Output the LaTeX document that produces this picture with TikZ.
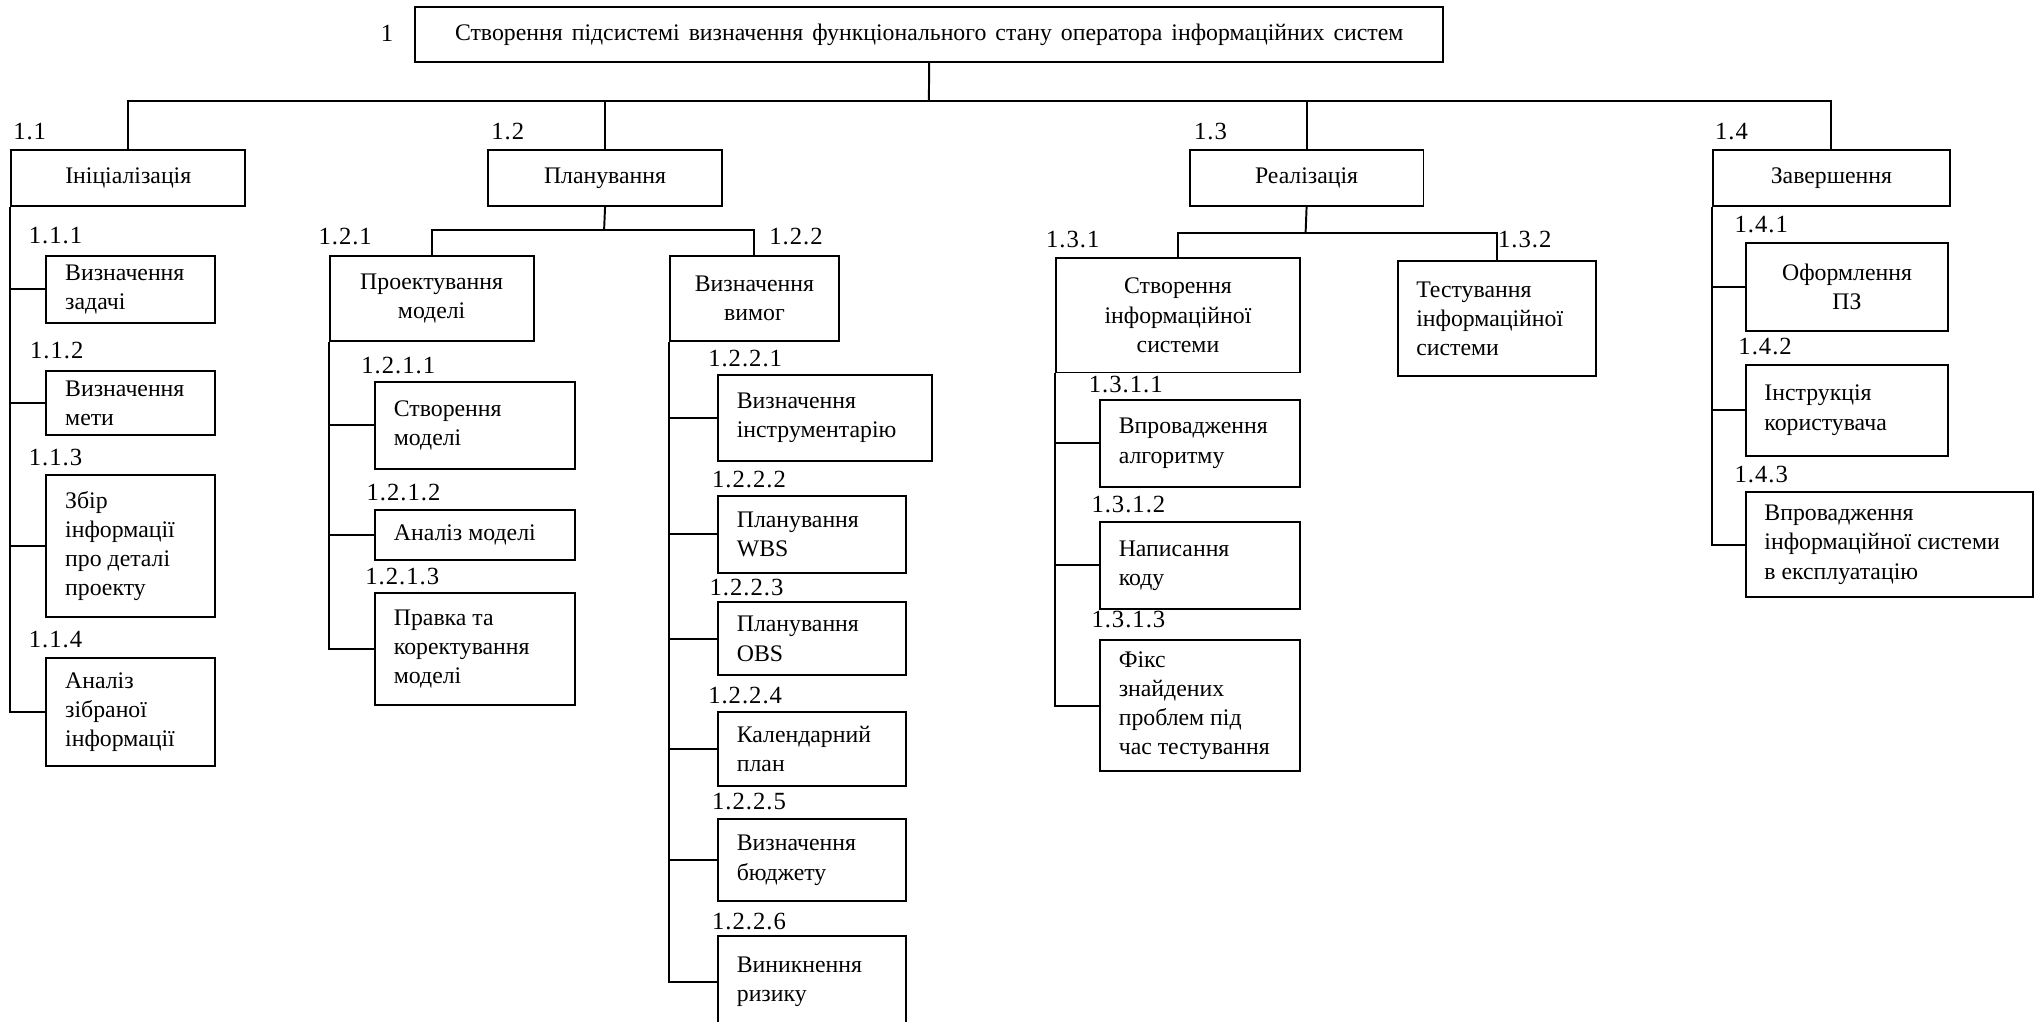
\documentclass[tikz,border=0pt]{standalone}
\usepackage{fontspec}
\setmainfont{Liberation Serif}
\newfontfamily\numfont[LetterSpace=4]{Liberation Serif}
\newcommand{\boxfont}{\fontsize{18.3}{22.5}\selectfont}
\newcommand{\numfnt}{\numfont\fontsize{19}{22}\selectfont}

\tikzset{
  wbsline/.style={line width=1.5pt},
  wbsbox/.style={draw, line width=1.5pt, anchor=north west, inner sep=0pt, font=\boxfont},
  boxtext/.style={anchor=west, align=left, inner sep=0pt, font=\boxfont},
  wbsnum/.style={anchor=west, inner sep=0pt, font=\numfnt},
}

% centred box: name, x1, y1, x2, y2, text
\newcommand{\cbox}[6]{%
  \pgfmathsetmacro{\wbsW}{#4-#2}\pgfmathsetmacro{\wbsH}{#5-#3}%
  \node[wbsbox, align=center, minimum width=\wbsW pt, minimum height=\wbsH pt] (#1) at (#2,#3) {#6};}
% box with left-aligned text: name, x1, y1, x2, y2, text
\newcommand{\lbox}[6]{%
  \pgfmathsetmacro{\wbsW}{#4-#2}\pgfmathsetmacro{\wbsH}{#5-#3}%
  \node[wbsbox, minimum width=\wbsW pt, minimum height=\wbsH pt] (#1) at (#2,#3) {};
  \node[boxtext] (#1t) at ([xshift=15pt]#1.west) {#6};}

\begin{document}
\begin{tikzpicture}[x=1pt, y=-1pt]
\clip (0,0) rectangle (1568,786);

% root
\cbox{top}{319}{5}{1110}{47}{\spaceskip=7pt\relax Створення підсистемі визначення функціонального стану оператора інформаційних систем}
\node[wbsnum, anchor=center] (l1) at (298,26) {1};

% level 1
\cbox{n11}{8}{115}{188}{158}{Ініціалізація}
\cbox{n12}{375}{115}{555}{158}{Планування}
\cbox{n13}{915}{115}{1095}{158}{Реалізація}
\cbox{n14}{1318}{115}{1500}{158}{Завершення}
\node[wbsnum] (l11) at (10,101) {1.1};
\node[wbsnum] (l12) at (378,101) {1.2};
\node[wbsnum] (l13) at (919,101) {1.3};
\node[wbsnum] (l14) at (1320,101) {1.4};

% 1.1 Ініціалізація
\lbox{n111}{35}{196}{165}{248}{Визначення\\задачі}
\lbox{n112}{35}{285}{165}{334}{Визначення\\мети}
\lbox{n113}{35}{365}{165}{474}{Збір\\інформації\\про деталі\\проекту}
\lbox{n114}{35}{506}{165}{589}{Аналіз\\зібраної\\інформації}
\node[wbsnum] (l111) at (22,181) {1.1.1};
\node[wbsnum] (l112) at (23,270) {1.1.2};
\node[wbsnum] (l113) at (22,352) {1.1.3};
\node[wbsnum] (l114) at (22,492) {1.1.4};

% 1.2 Планування
\cbox{n121}{253}{196}{410}{262}{Проектування\\моделі}
\cbox{n122}{515}{196}{645}{262}{Визначення\\вимог}
\node[wbsnum] (l121) at (245,182) {1.2.1};
\node[wbsnum] (l122) at (592,182) {1.2.2};

\lbox{n1211}{288}{293}{442}{360}{Створення\\моделі}
\lbox{n1212}{288}{392}{442}{430}{Аналіз моделі}
\lbox{n1213}{288}{456}{442}{542}{Правка та\\коректування\\моделі}
\node[wbsnum] (l1211) at (278,281) {1.2.1.1};
\node[wbsnum] (l1212) at (282,379) {1.2.1.2};
\node[wbsnum] (l1213) at (281,444) {1.2.1.3};

\lbox{n1221}{552}{288}{717}{354}{Визначення\\інструментарію}
\lbox{n1222}{552}{381}{697}{440}{Планування\\WBS}
\lbox{n1223}{552}{463}{697}{519}{Планування\\OBS}
\lbox{n1224}{552}{547}{697}{604}{Календарний\\план}
\lbox{n1225}{552}{630}{697}{693}{Визначення\\бюджету}
\lbox{n1226}{552}{720}{697}{790}{Виникнення\\ризику}
\node[wbsnum] (l1221) at (545,276) {1.2.2.1};
\node[wbsnum] (l1222) at (548,369) {1.2.2.2};
\node[wbsnum] (l1223) at (546,452) {1.2.2.3};
\node[wbsnum] (l1224) at (545,535) {1.2.2.4};
\node[wbsnum] (l1225) at (548,617) {1.2.2.5};
\node[wbsnum] (l1226) at (548,709) {1.2.2.6};

% 1.3 Реалізація
\cbox{n131}{812}{198}{1000}{286}{Створення\\інформаційної\\системи}
\lbox{n132}{1075}{200}{1228}{289}{Тестування\\інформаційної\\системи}
\node[wbsnum] (l131) at (805,184) {1.3.1};
\node[wbsnum] (l132) at (1153,184) {1.3.2};

\lbox{n1311}{846}{307}{1000}{374}{Впровадження\\алгоритму}
\lbox{n1312}{846}{401}{1000}{468}{Написання\\коду}
\lbox{n1313}{846}{492}{1000}{593}{Фікс\\знайдених\\проблем під\\час тестування}
\node[wbsnum] (l1311) at (838,296) {1.3.1.1};
\node[wbsnum] (l1312) at (840,388) {1.3.1.2};
\node[wbsnum] (l1313) at (840,477) {1.3.1.3};

% 1.4 Завершення
\cbox{n141}{1343}{186}{1499}{254}{Оформлення\\ПЗ}
\lbox{n142}{1343}{280}{1499}{350}{Інструкція\\користувача}
\lbox{n143}{1343}{378}{1564}{459}{Впровадження\\інформаційної системи\\в експлуатацію}
\node[wbsnum] (l141) at (1335,173) {1.4.1};
\node[wbsnum] (l142) at (1338,267) {1.4.2};
\node[wbsnum] (l143) at (1335,365) {1.4.3};

% connectors: root to level 1
\coordinate (bus) at (715,78);
\draw[wbsline] (top.south) -- (bus);
\draw[wbsline] (n11.north) |- (bus) -| (n14.north);
\draw[wbsline] (n12.north) -- (n12.north |- bus);
\draw[wbsline] (n13.north) -- (n13.north |- bus);

% 1.1 branch
\draw[wbsline] (n11.south west) |- (n114.west);
\foreach \c in {n111,n112,n113}
  \draw[wbsline] (n11.south west |- \c.west) -- (\c.west);

% 1.2 branch
\coordinate (j12) at (465,177);
\draw[wbsline] (n12.south) -- (j12);
\draw[wbsline] (n121.north) |- (j12) -| (n122.north);
\draw[wbsline] (n121.south west) |- (n1213.west);
\foreach \c in {n1211,n1212}
  \draw[wbsline] (n121.south west |- \c.west) -- (\c.west);
\draw[wbsline] (n122.south west) |- (n1226.west);
\foreach \c in {n1221,n1222,n1223,n1224,n1225}
  \draw[wbsline] (n122.south west |- \c.west) -- (\c.west);

% 1.3 branch
\coordinate (j13) at (1005,179);
\draw[wbsline] (n13.south) -- (j13);
\draw[wbsline] (n131.north) |- (j13) -| (n132.north);
\draw[wbsline] (n131.south west) |- (n1313.west);
\foreach \c in {n1311,n1312}
  \draw[wbsline] (n131.south west |- \c.west) -- (\c.west);

% 1.4 branch
\draw[wbsline] (n14.south west) |- (n143.west);
\foreach \c in {n141,n142}
  \draw[wbsline] (n14.south west |- \c.west) -- (\c.west);
\end{tikzpicture}
\end{document}
